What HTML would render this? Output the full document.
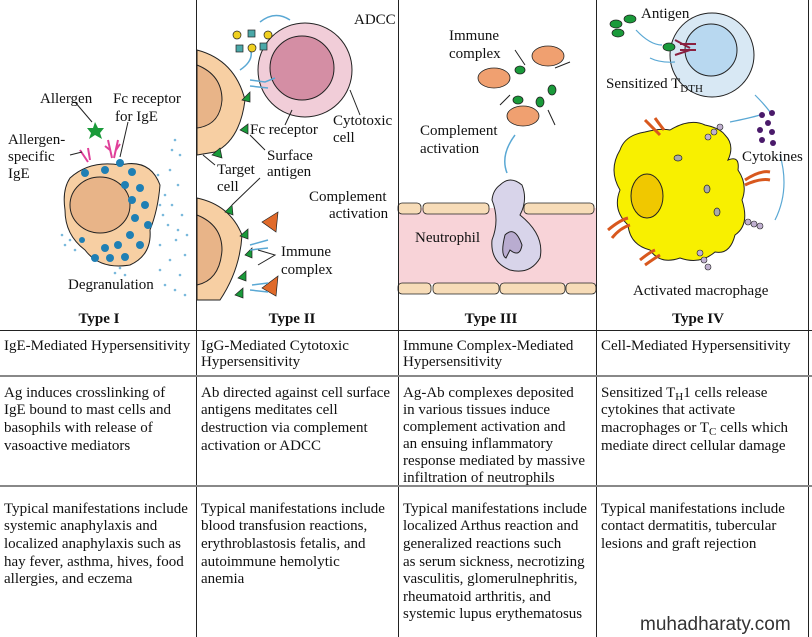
<!DOCTYPE html>
<html><head><meta charset="utf-8"><style>
html,body{margin:0;padding:0;background:#fff}
svg{display:block}
text{font-family:"Liberation Serif",serif;font-size:15px;fill:#111}
.b{font-weight:bold;font-size:15px}
</style></head><body>
<svg width="812" height="637" viewBox="0 0 812 637" xmlns="http://www.w3.org/2000/svg">
<!-- Type I -->
<g>
<path d="M70 178 Q90 160 120 165 Q150 158 160 185 Q158 210 150 230 Q152 255 130 265 Q100 270 85 250 Q65 235 65 210 Q62 190 70 178Z" fill="#f7cfa3" stroke="#222"/>
<ellipse cx="100" cy="205" rx="30" ry="28" fill="#e8b488" stroke="#222"/>
<g fill="#1f7fb4">
<circle cx="105" cy="170" r="4"/><circle cx="120" cy="163" r="4"/><circle cx="132" cy="172" r="4"/><circle cx="140" cy="188" r="4"/><circle cx="132" cy="200" r="4"/><circle cx="145" cy="205" r="4"/><circle cx="135" cy="218" r="4"/><circle cx="148" cy="225" r="4"/><circle cx="130" cy="235" r="4"/><circle cx="118" cy="245" r="4"/><circle cx="105" cy="248" r="4"/><circle cx="95" cy="258" r="4"/><circle cx="110" cy="258" r="4"/><circle cx="85" cy="173" r="4"/><circle cx="125" cy="185" r="4"/><circle cx="140" cy="245" r="4"/><circle cx="82" cy="240" r="3"/><circle cx="125" cy="257" r="4"/>
</g>
<g fill="#5aa8d4" opacity=".8">
<circle cx="175" cy="140" r="1.3"/><circle cx="180" cy="155" r="1.3"/><circle cx="170" cy="170" r="1.3"/><circle cx="178" cy="185" r="1.3"/><circle cx="165" cy="195" r="1.3"/><circle cx="172" cy="205" r="1.3"/><circle cx="182" cy="215" r="1.3"/><circle cx="168" cy="225" r="1.3"/><circle cx="176" cy="240" r="1.3"/><circle cx="185" cy="255" r="1.3"/><circle cx="170" cy="260" r="1.3"/><circle cx="180" cy="275" r="1.3"/><circle cx="165" cy="285" r="1.3"/><circle cx="185" cy="295" r="1.3"/><circle cx="160" cy="245" r="1.3"/><circle cx="70" cy="240" r="1.3"/><circle cx="65" cy="245" r="1.3"/><circle cx="75" cy="250" r="1.3"/><circle cx="62" cy="235" r="1.3"/><circle cx="120" cy="268" r="1.3"/><circle cx="125" cy="275" r="1.3"/><circle cx="115" cy="273" r="1.3"/><circle cx="158" cy="175" r="1.3"/><circle cx="163" cy="215" r="1.3"/><circle cx="172" cy="150" r="1.3"/><circle cx="160" cy="205" r="1.3"/><circle cx="178" cy="230" r="1.3"/><circle cx="187" cy="235" r="1.3"/><circle cx="160" cy="270" r="1.3"/><circle cx="175" cy="290" r="1.3"/>
</g>
<polygon points="95,122 98,128 104,128 100,133 102,139 95,135 89,139 91,133 87,128 93,128" fill="#1a9a3a"/>
<path d="M80 150 L88 162 M88 148 L90 160 M108 140 L112 158 M118 140 L114 158 M105 146 L110 150 M120 144 L116 150" stroke="#e0409a" stroke-width="2" fill="none"/>
<line x1="75" y1="102" x2="92" y2="122" stroke="#222"/>
<line x1="70" y1="155" x2="82" y2="152" stroke="#222"/>
<line x1="128" y1="122" x2="120" y2="157" stroke="#222"/>
<text x="40" y="103">Allergen</text>
<text x="113" y="103">Fc receptor</text>
<text x="115" y="121">for IgE</text>
<text x="8" y="144">Allergen-</text>
<text x="8" y="161">specific</text>
<text x="8" y="178">IgE</text>
<text x="68" y="289">Degranulation</text>
</g>
<!-- Type II -->
<g>
<path d="M197 50 Q235 60 245 100 Q240 140 215 152 L197 155Z" fill="#f7cfa3" stroke="#222"/>
<path d="M197 65 Q222 75 222 100 Q220 125 197 128Z" fill="#e8b488" stroke="#222"/>
<path d="M197 198 Q230 205 242 235 Q240 270 220 300 L197 300Z" fill="#f7cfa3" stroke="#222"/>
<path d="M197 215 Q222 225 222 250 Q220 280 197 285Z" fill="#e8b488" stroke="#222"/>
<circle cx="305" cy="70" r="47" fill="#f1cdd8" stroke="#222"/>
<circle cx="302" cy="68" r="32" fill="#d48ea4" stroke="#222"/>
<g fill="#1a9a3a" stroke="#222" stroke-width=".7">
<polygon points="242,100 250,92 250,102"/><polygon points="240,130 248,124 248,134"/><polygon points="212,155 220,148 222,158"/><polygon points="225,212 232,205 233,215"/><polygon points="240,236 248,229 248,239"/><polygon points="245,255 252,248 252,258"/><polygon points="238,278 246,271 246,281"/><polygon points="235,295 243,288 243,298"/>
</g>
<g fill="#e06a2a" stroke="#222" stroke-width=".7">
<polygon points="262,222 278,212 276,232"/><polygon points="262,288 278,276 276,296"/>
</g>
<g stroke="#5aa8d4" fill="none" stroke-width="1.5">
<path d="M250 80 L265 82 L275 78 M250 86 L268 88"/><path d="M250 245 L268 240 M250 250 L268 248 M252 285 L268 283 M250 290 L268 292"/>
<path d="M290 20 Q275 10 260 22"/><path d="M250 48 Q255 60 240 70"/>
</g>
<g stroke="#222" stroke-width=".7">
<circle cx="237" cy="35" r="4" fill="#f0d020"/><circle cx="252" cy="48" r="4" fill="#f0d020"/><circle cx="268" cy="35" r="4" fill="#f0d020"/>
<rect x="248" y="30" width="7" height="7" fill="#4aa8a8"/><rect x="236" y="45" width="7" height="7" fill="#4aa8a8"/><rect x="260" y="43" width="7" height="7" fill="#4aa8a8"/>
</g>
<line x1="292" y1="110" x2="285" y2="125" stroke="#222"/>
<line x1="350" y1="90" x2="360" y2="115" stroke="#222"/>
<line x1="250" y1="135" x2="265" y2="150" stroke="#222"/>
<line x1="203" y1="155" x2="215" y2="165" stroke="#222"/>
<line x1="232" y1="205" x2="260" y2="178" stroke="#222"/>
<path d="M258 250 L275 255 L258 265" fill="none" stroke="#222"/>
<text x="354" y="24">ADCC</text>
<text x="250" y="134">Fc receptor</text>
<text x="333" y="125">Cytotoxic</text>
<text x="333" y="142">cell</text>
<text x="267" y="160">Surface</text>
<text x="267" y="176">antigen</text>
<text x="217" y="174">Target</text>
<text x="217" y="191">cell</text>
<text x="309" y="201">Complement</text>
<text x="329" y="218">activation</text>
<text x="281" y="256">Immune</text>
<text x="281" y="274">complex</text>
</g>
<!-- Type III -->
<g>
<rect x="398" y="208" width="198" height="76" fill="#f8d3d8"/>
<g fill="#f7dcb8" stroke="#222" stroke-width=".8">
<rect x="398" y="203" width="23" height="11" rx="4"/><rect x="423" y="203" width="66" height="11" rx="4"/><rect x="524" y="203" width="70" height="11" rx="4"/>
<rect x="398" y="283" width="33" height="11" rx="4"/><rect x="433" y="283" width="66" height="11" rx="4"/><rect x="500" y="283" width="65" height="11" rx="4"/><rect x="566" y="283" width="30" height="11" rx="4"/>
</g>
<path d="M500 185 Q510 175 522 185 Q528 200 520 215 Q545 235 540 258 Q530 275 510 270 Q490 262 492 240 Q500 220 492 200 Q493 190 500 185Z" fill="#d8d4ea" stroke="#222"/>
<path d="M505 235 Q515 225 522 245 Q520 258 510 250 L506 258 Q500 255 505 235Z" fill="#b9acd0" stroke="#222"/>
<path d="M507 173 Q500 155 515 135" stroke="#5aa8d4" fill="none" stroke-width="1.5"/>
<g stroke="#222" stroke-width=".8">
<ellipse cx="548" cy="56" rx="16" ry="10" fill="#f0a070"/><ellipse cx="494" cy="78" rx="16" ry="10" fill="#f0a070"/><ellipse cx="523" cy="116" rx="16" ry="10" fill="#f0a070"/>
<ellipse cx="520" cy="70" rx="5" ry="4" fill="#1a9a3a"/><ellipse cx="518" cy="100" rx="5" ry="4" fill="#1a9a3a"/><ellipse cx="552" cy="90" rx="4" ry="5" fill="#1a9a3a"/><ellipse cx="540" cy="102" rx="4" ry="5" fill="#1a9a3a"/>
</g>
<path d="M515 50 L525 65 M510 95 L500 105 M555 68 L570 62 M548 110 L555 125" stroke="#222"/>
<text x="449" y="40">Immune</text>
<text x="449" y="58">complex</text>
<text x="420" y="135">Complement</text>
<text x="420" y="153">activation</text>
<text x="415" y="242">Neutrophil</text>
</g>
<!-- Type IV -->
<g>
<circle cx="712" cy="55" r="42" fill="#d8e8f4" stroke="#222"/>
<circle cx="711" cy="50" r="26" fill="#b8d8f0" stroke="#222"/>
<g fill="#1a9a3a" stroke="#222" stroke-width=".7">
<ellipse cx="630" cy="19" rx="6" ry="4"/><ellipse cx="616" cy="24" rx="6" ry="4"/><ellipse cx="618" cy="33" rx="6" ry="4"/><ellipse cx="669" cy="47" rx="6" ry="4"/>
</g>
<path d="M675 40 L690 48 M675 55 L690 50 M680 44 L696 44 M680 50 L696 50" stroke="#8a2040" stroke-width="2"/>
<path d="M636 30 Q650 45 662 45 M650 58 Q660 63 675 62" stroke="#5aa8d4" fill="none" stroke-width="1.2"/>
<path d="M755 95 Q765 105 770 112 M760 115 Q750 118 730 122 M780 155 Q790 190 775 220" stroke="#5aa8d4" fill="none" stroke-width="1.2"/>
<path d="M620 150 Q625 135 645 132 Q660 128 670 130 Q690 118 705 125 Q720 128 725 135 Q735 145 728 160 Q740 155 738 170 Q748 185 742 200 Q750 225 735 235 Q730 255 715 252 Q700 265 680 258 Q660 265 650 250 Q630 245 628 225 Q612 210 620 190 Q608 170 620 150Z" fill="#f8f000" stroke="#222"/>
<ellipse cx="647" cy="196" rx="16" ry="22" fill="#f0c800" stroke="#222"/>
<g fill="#aaa" stroke="#222" stroke-width=".7"><ellipse cx="678" cy="158" rx="4" ry="3"/><ellipse cx="707" cy="189" rx="3" ry="4"/><ellipse cx="717" cy="212" rx="3" ry="4"/></g>
<g fill="#4a1a6a"><circle cx="762" cy="115" r="3"/><circle cx="772" cy="113" r="3"/><circle cx="768" cy="123" r="3"/><circle cx="760" cy="130" r="3"/><circle cx="772" cy="132" r="3"/><circle cx="762" cy="140" r="3"/><circle cx="773" cy="143" r="3"/></g>
<g fill="#c0b0d0" stroke="#222" stroke-width=".6"><circle cx="708" cy="137" r="3"/><circle cx="714" cy="132" r="3"/><circle cx="720" cy="127" r="3"/><circle cx="748" cy="222" r="3"/><circle cx="754" cy="224" r="3"/><circle cx="760" cy="226" r="3"/><circle cx="700" cy="253" r="3"/><circle cx="704" cy="260" r="3"/><circle cx="708" cy="267" r="3"/></g>
<path d="M645 120 Q655 130 660 135 M655 118 Q660 125 664 130 M745 180 Q760 170 770 172 M745 185 Q760 178 770 180 M608 230 Q620 220 628 218 M612 238 Q620 228 630 225 M640 260 Q650 252 655 250 M645 265 Q655 258 660 255" stroke="#d8581e" stroke-width="3" fill="none"/>
<text x="641" y="18">Antigen</text>
<text x="606" y="88">Sensitized T<tspan dy="4" font-size="11">DTH</tspan></text>
<text x="742" y="161">Cytokines</text>
<text x="633" y="295">Activated macrophage</text>
</g>
<!-- type labels -->
<text class="b" x="99" y="323" text-anchor="middle">Type I</text>
<text class="b" x="292" y="323" text-anchor="middle">Type II</text>
<text class="b" x="491" y="323" text-anchor="middle">Type III</text>
<text class="b" x="698" y="323" text-anchor="middle">Type IV</text>
<!-- grid -->
<g stroke="#222" stroke-width="1">
<line x1="196.5" y1="0" x2="196.5" y2="637"/><line x1="398.5" y1="0" x2="398.5" y2="637"/><line x1="596.5" y1="0" x2="596.5" y2="637"/>
<line x1="808.5" y1="0" x2="808.5" y2="637"/>
<line x1="0" y1="330.5" x2="812" y2="330.5"/>
</g>
<line x1="0" y1="376" x2="812" y2="376" stroke="#888" stroke-width="2"/>
<line x1="0" y1="486" x2="812" y2="486" stroke="#888" stroke-width="2"/>
<!-- rows -->
<g>
<text x="4" y="350">IgE-Mediated Hypersensitivity</text>
<text x="201" y="350">IgG-Mediated Cytotoxic</text><text x="201" y="366">Hypersensitivity</text>
<text x="403" y="350">Immune Complex-Mediated</text><text x="403" y="366">Hypersensitivity</text>
<text x="601" y="350">Cell-Mediated Hypersensitivity</text>
<text x="4" y="397">Ag induces crosslinking of</text><text x="4" y="414">IgE bound to mast cells and</text><text x="4" y="432">basophils with release of</text><text x="4" y="450">vasoactive mediators</text>
<text x="201" y="397">Ab directed against cell surface</text><text x="201" y="414">antigens meditates cell</text><text x="201" y="432">destruction via complement</text><text x="201" y="450">activation or ADCC</text>
<text x="403" y="397">Ag-Ab complexes deposited</text><text x="403" y="414">in various tissues induce</text><text x="403" y="431">complement activation and</text><text x="403" y="448">an ensuing inflammatory</text><text x="403" y="465">response mediated by massive</text><text x="403" y="482">infiltration of neutrophils</text>
<text x="601" y="397">Sensitized T<tspan dy="3" font-size="11">H</tspan><tspan dy="-3">1 cells release</tspan></text><text x="601" y="414">cytokines that activate</text><text x="601" y="432">macrophages or T<tspan dy="3" font-size="11">C</tspan><tspan dy="-3"> cells which</tspan></text><text x="601" y="450">mediate direct cellular damage</text>
<text x="4" y="513">Typical manifestations include</text><text x="4" y="530">systemic anaphylaxis and</text><text x="4" y="548">localized anaphylaxis such as</text><text x="4" y="566">hay fever, asthma, hives, food</text><text x="4" y="583">allergies, and eczema</text>
<text x="201" y="513">Typical manifestations include</text><text x="201" y="530">blood transfusion reactions,</text><text x="201" y="548">erythroblastosis fetalis, and</text><text x="201" y="566">autoimmune hemolytic</text><text x="201" y="583">anemia</text>
<text x="403" y="513">Typical manifestations include</text><text x="403" y="530">localized Arthus reaction and</text><text x="403" y="548">generalized reactions such</text><text x="403" y="566">as serum sickness, necrotizing</text><text x="403" y="583">vasculitis, glomerulnephritis,</text><text x="403" y="601">rheumatoid arthritis, and</text><text x="403" y="618">systemic lupus erythematosus</text>
<text x="601" y="513">Typical manifestations include</text><text x="601" y="530">contact dermatitis, tubercular</text><text x="601" y="548">lesions and graft rejection</text>
</g>
<text x="640" y="630" style="font-family:'Liberation Sans',sans-serif;font-size:19px;fill:#333;stroke:#fff;stroke-width:3;paint-order:stroke">muhadharaty.com</text>
</svg>
</body></html>
